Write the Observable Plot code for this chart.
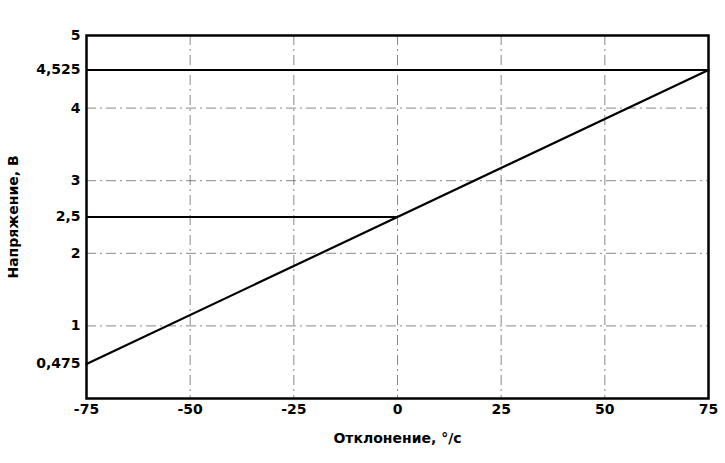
<!DOCTYPE html>
<html>
<head>
<meta charset="utf-8">
<script src="https://cdn.jsdelivr.net/npm/d3@7"></script>
<script src="https://cdn.jsdelivr.net/npm/@observablehq/plot@0.6"></script>
<style>
  body { margin: 0; background: #fff; }
  #chart svg { display: block; }
</style>
</head>
<body>
<div id="chart"></div>
<script>
const deviation = [-75, 75];
const voltage = [0.475, 4.525];
const xTicks = [-75, -50, -25, 0, 25, 50, 75];
const yTicks = [0.475, 1, 2, 2.5, 3, 4, 4.525, 5];
const xGrid = [-50, -25, 0, 25, 50];
const yGrid = [1, 2, 3, 4];
const refLevels = [
  {y: 4.525, x1: -75, x2: 75},
  {y: 2.5, x1: -75, x2: 0}
];

const lineData = deviation.map((x, i) => ({x, y: voltage[i]}));
const fmt = d => String(d).replace(".", ",");
const gridStyle = {stroke: "#555", strokeWidth: 1, strokeDasharray: "10,4,2,4", strokeOpacity: 0.7};

const chart = Plot.plot({
  width: 725,
  height: 463,
  marginLeft: 86,
  marginRight: 17,
  marginTop: 35,
  marginBottom: 65,
  style: {fontFamily: "'DejaVu Sans', sans-serif", fontWeight: "bold", fontSize: "14px", color: "#000", background: "#fff"},
  x: {domain: [-75, 75]},
  y: {domain: [0, 5]},
  marks: [
    Plot.ruleY(yGrid, {...gridStyle}),
    Plot.ruleX(xGrid, {...gridStyle}),
    Plot.ruleY(refLevels, {y: "y", x1: "x1", x2: "x2", stroke: "#000", strokeWidth: 2}),
    Plot.line(lineData, {x: "x", y: "y", stroke: "#000", strokeWidth: 2.2}),
    Plot.frame({stroke: "#000", strokeWidth: 2.5}),
    Plot.axisX({ticks: xTicks, tickSize: 0, tickPadding: 6, tickFormat: fmt, fontSize: 14, fontWeight: "bold",
      label: "Отклонение, °/с", labelAnchor: "center", labelArrow: "none", labelOffset: 44}),
    Plot.axisY({ticks: yTicks, tickSize: 0, tickPadding: 6, tickFormat: fmt, fontSize: 14, fontWeight: "bold",
      label: "Напряжение, В", labelAnchor: "center", labelArrow: "none", labelOffset: 78})
  ]
});
document.getElementById("chart").appendChild(chart);
</script>
</body>
</html>
